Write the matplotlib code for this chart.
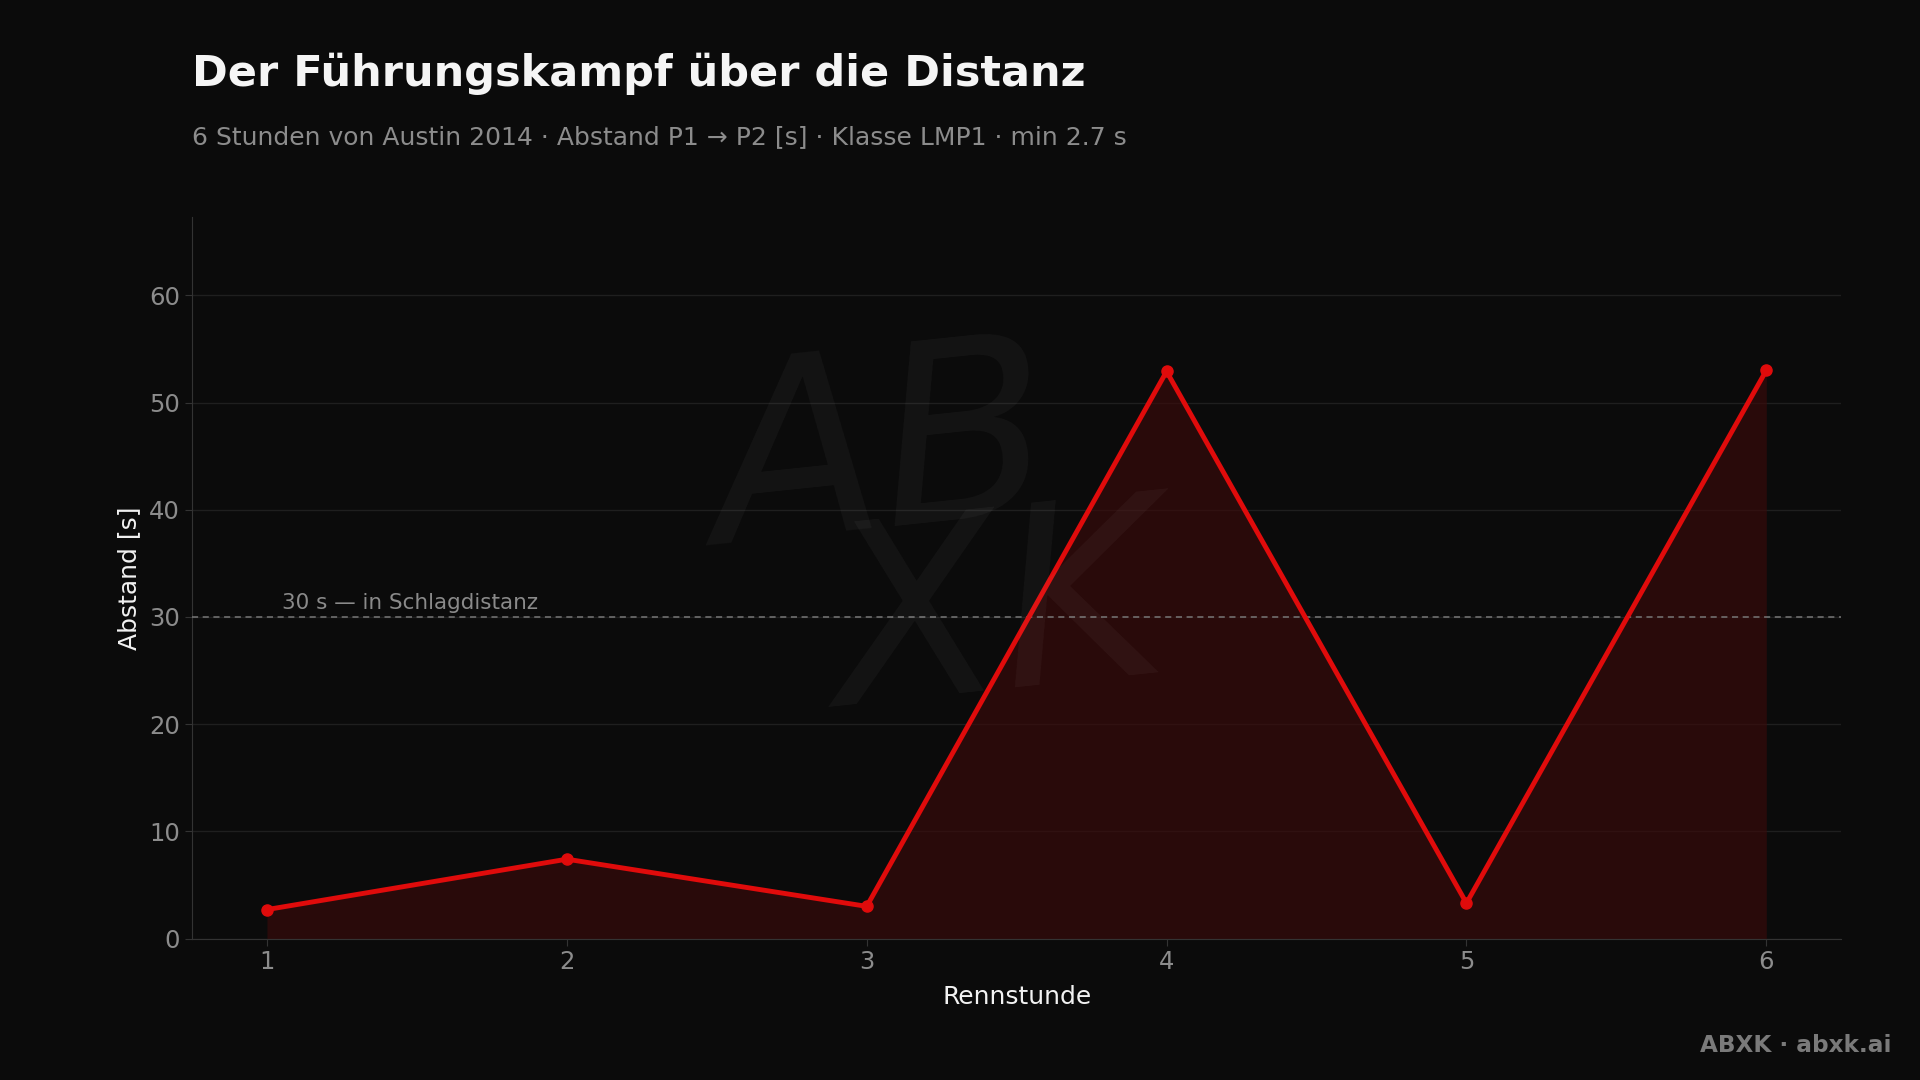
import matplotlib
matplotlib.use("Agg")
import matplotlib.pyplot as plt

# data
hours = [1, 2, 3, 4, 5, 6]
gap_s = [2.7, 7.4, 3.0, 52.9, 3.3, 53.0]
threshold = 30
threshold_label = "30 s — in Schlagdistanz"

title = "Der Führungskampf über die Distanz"
subtitle = "6 Stunden von Austin 2014 · Abstand P1 → P2 [s] · Klasse LMP1 · min 2.7 s"

bg = "#0b0b0b"
red = "#e00b0b"

fig = plt.figure(figsize=(19.2, 10.8), dpi=100, facecolor=bg)
ax = fig.add_axes([0.1, 0.131, 0.859, 0.668])
ax.set_facecolor(bg)

# faint watermark (the original is a handwritten logo)
fig.text(0.459, 0.575, "AB", fontsize=180, style="italic", color="#ffffff", alpha=0.04,
         ha="center", va="center", rotation=6)
fig.text(0.52, 0.425, "XK", fontsize=180, style="italic", color="#ffffff", alpha=0.04,
         ha="center", va="center", rotation=6)

ax.fill_between(hours, gap_s, 0, color="#3a0a0a", alpha=0.65, lw=0, zorder=2)
ax.plot(hours, gap_s, color=red, lw=3.5, marker="o", ms=8, zorder=4)

ax.axhline(threshold, color="#777777", lw=1.1, ls=(0, (4, 3)), zorder=3)
ax.text(1.05, threshold + 0.4, threshold_label, color="#8a8a8a", fontsize=15.5,
        ha="left", va="bottom")

ax.set_xlim(0.75, 6.25)
ax.set_ylim(0, 67.3)
ax.set_xticks(hours)
ax.set_yticks([0, 10, 20, 30, 40, 50, 60])
ax.grid(axis="y", color="#1f1f1f", lw=1)
ax.set_axisbelow(True)

for s in ["top", "right"]:
    ax.spines[s].set_visible(False)
for s in ["left", "bottom"]:
    ax.spines[s].set_color("#333333")
ax.tick_params(colors="#333333", labelcolor="#8c8c8c", labelsize=17.5, length=5)

ax.set_xlabel("Rennstunde", color="#f2f2f2", fontsize=18, labelpad=8)
ax.set_ylabel("Abstand [s]", color="#f2f2f2", fontsize=18, labelpad=6)

fig.text(0.1, 0.932, title, color="#f5f5f5", fontsize=31, fontweight="bold",
         ha="left", va="center")
fig.text(0.1, 0.873, subtitle, color="#8c8c8c", fontsize=18, ha="left", va="center")
fig.text(0.985, 0.032, "ABXK · abxk.ai", color="#7a7a7a", fontsize=16.7,
         fontweight="bold", ha="right", va="center")

fig.savefig("out.png", dpi=100, facecolor=bg)
